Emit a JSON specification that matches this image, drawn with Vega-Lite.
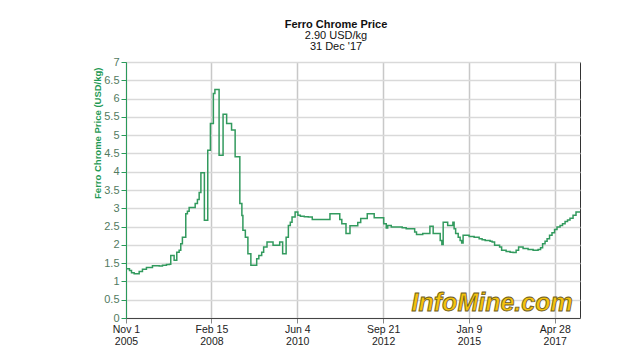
{
  "$schema": "https://vega.github.io/schema/vega-lite/v6.json",
  "width": 454,
  "height": 256,
  "autosize": {"type": "none"},
  "padding": {"left": 126, "top": 62, "right": 60, "bottom": 42},
  "background": "white",
  "title": {
    "text": "Ferro Chrome Price",
    "subtitle": ["2.90 USD/kg", "31 Dec '17"],
    "anchor": "middle",
    "font": "Liberation Sans",
    "fontSize": 11,
    "fontWeight": "bold",
    "color": "#111111",
    "subtitleFont": "Liberation Sans",
    "subtitleFontSize": 11,
    "subtitleColor": "#111111",
    "subtitlePadding": 0,
    "subtitleLineHeight": 11,
    "offset": 4,
    "dx": -17
  },
  "config": {
    "view": {"stroke": "#333333", "strokeWidth": 1},
    "font": "Liberation Sans"
  },
  "encoding": {
    "x": {
      "field": "date",
      "type": "temporal",
      "scale": {
        "type": "utc",
        "domain": [
          {"year": 2005, "month": 11, "date": 1, "utc": true},
          {"year": 2017, "month": 12, "date": 31, "utc": true}
        ]
      },
      "axis": {
        "title": null,
        "values": [
          {"year": 2005, "month": 11, "date": 1, "utc": true},
          {"year": 2008, "month": 2, "date": 15, "utc": true},
          {"year": 2010, "month": 6, "date": 4, "utc": true},
          {"year": 2012, "month": 9, "date": 21, "utc": true},
          {"year": 2015, "month": 1, "date": 9, "utc": true},
          {"year": 2017, "month": 4, "date": 28, "utc": true}
        ],
        "labelExpr": "[utcFormat(datum.value, '%b %-d'), utcFormat(datum.value, '%Y')]",
        "labelAngle": 0,
        "labelFlush": false,
        "labelOverlap": false,
        "labelFont": "Liberation Sans",
        "labelFontSize": 10.5,
        "labelLineHeight": 12,
        "labelColor": "#222222",
        "labelPadding": 1,
        "grid": true,
        "gridColor": "#c8c8c8",
        "gridWidth": 1.5,
        "domainColor": "#444444",
        "tickColor": "#888888",
        "tickSize": 5
      }
    },
    "y": {
      "field": "price",
      "type": "quantitative",
      "scale": {"domain": [0, 7], "nice": false},
      "axis": {
        "title": "Ferro Chrome Price (USD/kg)",
        "titleFont": "Liberation Sans",
        "titleFontSize": 9.5,
        "titleFontWeight": "bold",
        "titleColor": "#1f9a55",
        "titleAngle": -90,
        "titleAlign": "right",
        "titleBaseline": "middle",
        "titleX": -29,
        "titleY": 5,
        "values": [0, 0.5, 1, 1.5, 2, 2.5, 3, 3.5, 4, 4.5, 5, 5.5, 6, 6.5, 7],
        "format": "~g",
        "labelOverlap": false,
        "labelFont": "Liberation Sans",
        "labelFontSize": 11,
        "labelColor": "#527a60",
        "labelPadding": 2,
        "grid": true,
        "gridColor": "#d9d9d9",
        "gridWidth": 1.5,
        "domainColor": "#2a9a5a",
        "tickColor": "#2a9a5a",
        "tickSize": 5
      }
    }
  },
  "layer": [
    {
      "data": {
        "values": [
          {"date": "2005-11-01", "price": 1.35},
          {"date": "2005-12-05", "price": 1.30},
          {"date": "2005-12-25", "price": 1.24},
          {"date": "2006-01-20", "price": 1.21},
          {"date": "2006-03-10", "price": 1.27},
          {"date": "2006-04-11", "price": 1.33},
          {"date": "2006-05-20", "price": 1.38},
          {"date": "2006-07-18", "price": 1.43},
          {"date": "2006-09-22", "price": 1.42},
          {"date": "2006-10-24", "price": 1.44},
          {"date": "2006-12-02", "price": 1.46},
          {"date": "2006-12-31", "price": 1.47},
          {"date": "2007-01-13", "price": 1.71},
          {"date": "2007-02-15", "price": 1.58},
          {"date": "2007-03-13", "price": 1.80},
          {"date": "2007-04-05", "price": 1.85},
          {"date": "2007-04-21", "price": 2.03},
          {"date": "2007-05-07", "price": 2.21},
          {"date": "2007-06-09", "price": 2.85},
          {"date": "2007-06-25", "price": 2.92},
          {"date": "2007-07-12", "price": 3.02},
          {"date": "2007-09-09", "price": 3.13},
          {"date": "2007-10-01", "price": 3.24},
          {"date": "2007-10-18", "price": 3.43},
          {"date": "2007-11-04", "price": 3.97},
          {"date": "2007-12-08", "price": 2.67},
          {"date": "2008-01-10", "price": 4.59},
          {"date": "2008-02-05", "price": 5.32},
          {"date": "2008-03-05", "price": 6.14},
          {"date": "2008-03-20", "price": 6.25},
          {"date": "2008-04-30", "price": 4.45},
          {"date": "2008-06-08", "price": 5.57},
          {"date": "2008-07-13", "price": 5.32},
          {"date": "2008-08-30", "price": 5.14},
          {"date": "2008-10-04", "price": 4.41},
          {"date": "2008-11-19", "price": 3.13},
          {"date": "2008-12-09", "price": 2.80},
          {"date": "2008-12-19", "price": 2.40},
          {"date": "2009-01-12", "price": 2.21},
          {"date": "2009-02-06", "price": 1.76},
          {"date": "2009-03-07", "price": 1.44},
          {"date": "2009-05-03", "price": 1.62},
          {"date": "2009-05-24", "price": 1.71},
          {"date": "2009-06-21", "price": 1.80},
          {"date": "2009-07-10", "price": 1.94},
          {"date": "2009-08-12", "price": 2.08},
          {"date": "2009-10-10", "price": 1.99},
          {"date": "2009-12-14", "price": 2.08},
          {"date": "2010-01-12", "price": 1.76},
          {"date": "2010-02-15", "price": 2.21},
          {"date": "2010-03-09", "price": 2.53},
          {"date": "2010-03-28", "price": 2.62},
          {"date": "2010-04-14", "price": 2.76},
          {"date": "2010-05-14", "price": 2.90},
          {"date": "2010-06-10", "price": 2.81},
          {"date": "2010-07-04", "price": 2.78},
          {"date": "2010-08-12", "price": 2.77},
          {"date": "2010-09-20", "price": 2.76},
          {"date": "2010-10-29", "price": 2.69},
          {"date": "2011-04-20", "price": 2.85},
          {"date": "2011-07-25", "price": 2.69},
          {"date": "2011-08-14", "price": 2.58},
          {"date": "2011-09-24", "price": 2.31},
          {"date": "2011-11-02", "price": 2.52},
          {"date": "2012-01-17", "price": 2.61},
          {"date": "2012-02-15", "price": 2.72},
          {"date": "2012-04-19", "price": 2.85},
          {"date": "2012-06-26", "price": 2.74},
          {"date": "2012-09-27", "price": 2.58},
          {"date": "2012-10-22", "price": 2.46},
          {"date": "2012-11-05", "price": 2.53},
          {"date": "2012-12-10", "price": 2.49},
          {"date": "2013-03-27", "price": 2.47},
          {"date": "2013-05-05", "price": 2.44},
          {"date": "2013-07-27", "price": 2.35},
          {"date": "2013-08-14", "price": 2.28},
          {"date": "2013-10-14", "price": 2.31},
          {"date": "2013-12-23", "price": 2.51},
          {"date": "2014-01-24", "price": 2.31},
          {"date": "2014-04-03", "price": 2.12},
          {"date": "2014-04-19", "price": 2.01},
          {"date": "2014-05-02", "price": 2.62},
          {"date": "2014-06-15", "price": 2.53},
          {"date": "2014-08-05", "price": 2.62},
          {"date": "2014-08-17", "price": 2.44},
          {"date": "2014-09-01", "price": 2.31},
          {"date": "2014-09-26", "price": 2.21},
          {"date": "2014-10-15", "price": 2.12},
          {"date": "2014-10-30", "price": 2.05},
          {"date": "2014-11-13", "price": 2.26},
          {"date": "2015-01-11", "price": 2.23},
          {"date": "2015-03-01", "price": 2.21},
          {"date": "2015-04-19", "price": 2.17},
          {"date": "2015-05-18", "price": 2.14},
          {"date": "2015-06-17", "price": 2.12},
          {"date": "2015-08-04", "price": 2.10},
          {"date": "2015-08-24", "price": 2.08},
          {"date": "2015-09-17", "price": 1.99},
          {"date": "2015-11-05", "price": 1.94},
          {"date": "2015-11-25", "price": 1.85},
          {"date": "2016-01-08", "price": 1.82},
          {"date": "2016-02-16", "price": 1.80},
          {"date": "2016-03-16", "price": 1.79},
          {"date": "2016-04-15", "price": 1.85},
          {"date": "2016-05-09", "price": 1.94},
          {"date": "2016-06-22", "price": 1.90},
          {"date": "2016-08-10", "price": 1.87},
          {"date": "2016-09-28", "price": 1.85},
          {"date": "2016-11-16", "price": 1.87},
          {"date": "2016-12-10", "price": 1.92},
          {"date": "2016-12-30", "price": 2.03},
          {"date": "2017-01-23", "price": 2.10},
          {"date": "2017-02-12", "price": 2.17},
          {"date": "2017-03-08", "price": 2.26},
          {"date": "2017-04-01", "price": 2.33},
          {"date": "2017-04-26", "price": 2.42},
          {"date": "2017-05-20", "price": 2.49},
          {"date": "2017-06-19", "price": 2.53},
          {"date": "2017-07-13", "price": 2.58},
          {"date": "2017-08-07", "price": 2.64},
          {"date": "2017-08-31", "price": 2.68},
          {"date": "2017-09-24", "price": 2.73},
          {"date": "2017-10-24", "price": 2.81},
          {"date": "2017-11-22", "price": 2.90},
          {"date": "2017-12-31", "price": 2.90}
        ]
      },
      "mark": {"type": "line", "interpolate": "step-after", "color": "#329a5e", "strokeWidth": 1.5}
    },
    {
      "data": {"values": [{"date": "2015-08-24", "price": 0.42, "label": "InfoMine.com"}]},
      "mark": {
        "type": "text",
        "font": "Liberation Sans",
        "fontSize": 25,
        "fontWeight": "bold",
        "fontStyle": "italic",
        "fill": "#f4c20d",
        "stroke": "#6b5a1e",
        "strokeWidth": 0.8,
        "align": "center",
        "baseline": "middle"
      },
      "encoding": {
        "text": {"field": "label"}
      }
    }
  ]
}
